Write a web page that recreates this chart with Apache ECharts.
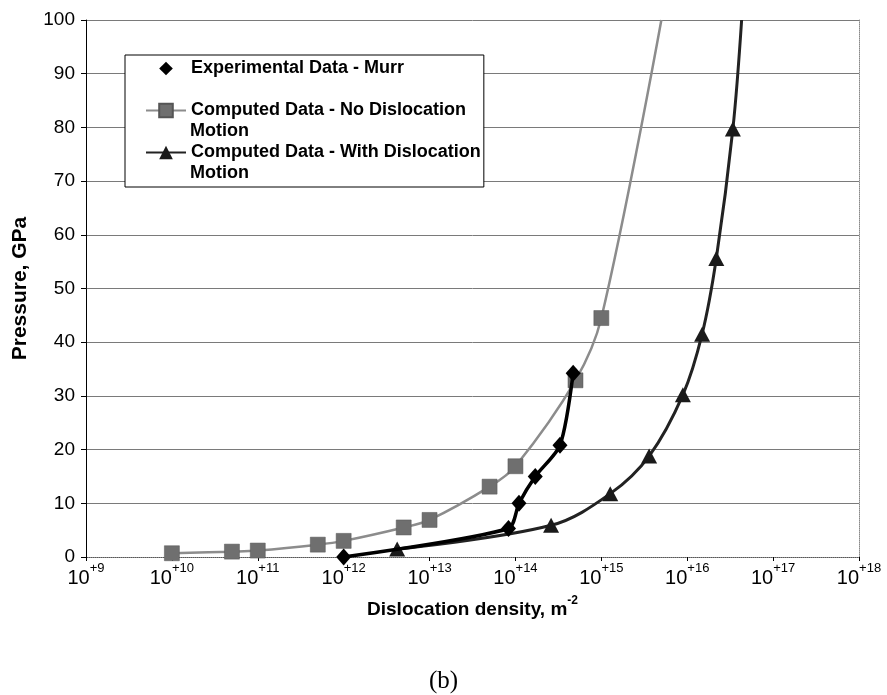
<!DOCTYPE html>
<html>
<head>
<meta charset="utf-8">
<script src="https://cdn.jsdelivr.net/npm/echarts@6/dist/echarts.min.js"></script>
<style>
  html, body { margin: 0; padding: 0; background: #ffffff; }
  #chart { width: 887px; height: 695px; }
</style>
</head>
<body>
<div id="chart"></div>
<script>
// ---- data ----
const seriesNames = [
  'Experimental Data - Murr',
  'Computed Data - No Dislocation Motion',
  'Computed Data - With Dislocation Motion'
];
// legend text: first line beside the icon, wrapped remainder below it
const legendFirstLines = ['Experimental Data - Murr', 'Computed Data - No Dislocation', 'Computed Data - With Dislocation'];
const legendWrapLines  = ['', 'Motion', 'Motion'];
// Experimental Data - Murr (diamonds)
const expDensity  = [1e12, 8.3e13, 1.1e14, 1.7e14, 3.3e14, 4.7e14];
const expPressure = [0, 5.3, 10, 15, 20.8, 34.2];
// Computed - No Dislocation Motion (squares); last value runs off the top of the plot
const noDisDensity  = [1e10, 5e10, 1e11, 5e11, 1e12, 5e12, 1e13, 5e13, 1e14, 5e14, 1e15, 5e15];
const noDisPressure = [0.7, 1.0, 1.2, 2.3, 3.0, 5.5, 6.9, 13.1, 16.9, 32.9, 44.5, 100];
// Computed - With Dislocation Motion (triangles); last value runs off the top of the plot
const withDisDensity  = [4.2e12, 2.6e14, 1.27e15, 3.6e15, 8.9e15, 1.49e16, 2.18e16, 3.4e16, 4.3e16];
const withDisPressure = [1.5, 5.9, 11.8, 18.8, 30.2, 41.5, 55.6, 79.7, 100];
// axis ticks
const xExponents = [9, 10, 11, 12, 13, 14, 15, 16, 17, 18];
const yTicks = [0, 10, 20, 30, 40, 50, 60, 70, 80, 90, 100];

function pairs(xs, ys, hideLast) {
  return xs.map(function (x, i) {
    const item = { value: [x, ys[i]] };
    if (hideLast && i === xs.length - 1) item.symbol = 'none';
    return item;
  });
}

const FONT = '"Liberation Sans", Arial, sans-serif';
const chart = echarts.init(document.getElementById('chart'), null, { renderer: 'canvas' });

// legend geometry
const LEG_LEFT = 125, LEG_TOP = 55, LEG_PAD_T = 3, LEG_PAD_L = 20, LEG_ICON_W = 40;
const LEG_LINE_H = 21, LEG_GAP = 21;
const legendWrapGraphics = [];
legendWrapLines.forEach(function (t, i) {
  if (!t) return;
  legendWrapGraphics.push({
    type: 'text',
    left: LEG_LEFT + LEG_PAD_L + LEG_ICON_W + 5,
    top: LEG_TOP + LEG_PAD_T + i * (LEG_LINE_H + LEG_GAP) + LEG_LINE_H + 1,
    z: 100,
    style: { text: t, font: 'bold 18px ' + FONT, fill: '#000' }
  });
});

const option = {
  backgroundColor: '#ffffff',
  animation: false,
  textStyle: { fontFamily: FONT, color: '#000' },
  title: {
    text: '(b)',
    left: 'center',
    top: 664,
    textStyle: { fontFamily: '"Liberation Serif", "Times New Roman", serif', fontWeight: 'normal', fontSize: 25, color: '#000' }
  },
  grid: { left: 86, top: 20, width: 773, height: 537, containLabel: false },
  legend: {
    orient: 'vertical',
    left: LEG_LEFT,
    top: LEG_TOP,
    padding: [LEG_PAD_T, 3, 24, LEG_PAD_L],
    itemGap: LEG_GAP,
    itemWidth: LEG_ICON_W,
    itemHeight: 17,
    borderColor: '#000',
    borderWidth: 1,
    backgroundColor: '#fff',
    z: 50,
    data: [
      { name: seriesNames[0], lineStyle: { width: 0, opacity: 0 } },
      { name: seriesNames[1] },
      { name: seriesNames[2] }
    ],
    formatter: function (name) { return legendFirstLines[seriesNames.indexOf(name)]; },
    textStyle: { fontFamily: FONT, fontSize: 18, fontWeight: 'bold', color: '#000', lineHeight: LEG_LINE_H }
  },
  graphic: legendWrapGraphics,
  xAxis: [{
    type: 'log',
    logBase: 10,
    min: Math.pow(10, xExponents[0]),
    max: Math.pow(10, xExponents[xExponents.length - 1]),
    interval: 1,
    name: '{t|Dislocation density, m}{s|-2}',
    nameLocation: 'middle',
    nameGap: 38,
    nameTextStyle: {
      rich: {
        t: { fontFamily: FONT, fontSize: 19, fontWeight: 'bold', color: '#000', lineHeight: 24, verticalAlign: 'bottom' },
        s: { fontFamily: FONT, fontSize: 12, fontWeight: 'bold', color: '#000', lineHeight: 24, verticalAlign: 'top' }
      }
    },
    axisLine: { show: true, onZero: false, lineStyle: { color: '#000', width: 1 } },
    axisTick: { show: true, length: 4, lineStyle: { color: '#000' } },
    splitLine: { show: false },
    minorTick: { show: false },
    axisLabel: {
      margin: 5,
      formatter: function (v) {
        const e = Math.round(Math.log10(v));
        return '{b|10}{s|+' + e + '}';
      },
      rich: {
        b: { fontFamily: FONT, fontSize: 20, color: '#000', lineHeight: 26, verticalAlign: 'bottom' },
        s: { fontFamily: FONT, fontSize: 13, color: '#000', lineHeight: 26, verticalAlign: 'top' }
      }
    }
  }, {
    type: 'value',
    position: 'top',
    min: 0, max: 1,
    axisLine: { show: true, lineStyle: { color: '#8a8a8a', type: 'dotted', width: 1 } },
    axisTick: { show: false }, axisLabel: { show: false }, splitLine: { show: false }
  }],
  yAxis: [{
    type: 'value',
    min: yTicks[0],
    max: yTicks[yTicks.length - 1],
    interval: 10,
    name: 'Pressure, GPa',
    nameLocation: 'middle',
    nameGap: 55,
    nameTextStyle: { fontFamily: FONT, fontSize: 21, fontWeight: 'bold', color: '#000' },
    axisLine: { show: true, lineStyle: { color: '#000', width: 1 } },
    axisTick: { show: true, length: 5, lineStyle: { color: '#000' } },
    axisLabel: { fontFamily: FONT, fontSize: 19, color: '#000', margin: 11 },
    splitLine: { show: true, lineStyle: { color: '#7a7a7a', width: 1 } }
  }, {
    type: 'value',
    position: 'right',
    min: 0, max: 1,
    axisLine: { show: true, lineStyle: { color: '#8a8a8a', type: 'dotted', width: 1 } },
    axisTick: { show: false }, axisLabel: { show: false }, splitLine: { show: false }
  }],
  series: [
    {
      name: seriesNames[1],
      type: 'line',
      xAxisIndex: 0, yAxisIndex: 0,
      data: pairs(noDisDensity, noDisPressure, true),
      smooth: 0.35,
      symbol: 'rect',
      symbolSize: 15,
      lineStyle: { color: '#8c8c8c', width: 2.5 },
      itemStyle: { color: '#6f6f6f', borderColor: '#555', borderWidth: 0.5 },
      z: 2
    },
    {
      name: seriesNames[2],
      type: 'line',
      xAxisIndex: 0, yAxisIndex: 0,
      data: pairs(withDisDensity, withDisPressure, true),
      smooth: 0.35,
      symbol: 'triangle',
      symbolSize: [16, 15],
      lineStyle: { color: '#222', width: 3 },
      itemStyle: { color: '#1a1a1a' },
      z: 3
    },
    {
      name: seriesNames[0],
      type: 'line',
      xAxisIndex: 0, yAxisIndex: 0,
      data: pairs(expDensity, expPressure, false),
      smooth: 0.25,
      symbol: 'diamond',
      symbolSize: [15, 17],
      lineStyle: { color: '#000', width: 3.5 },
      itemStyle: { color: '#000' },
      z: 4
    }
  ]
};
chart.setOption(option);
</script>
</body>
</html>
